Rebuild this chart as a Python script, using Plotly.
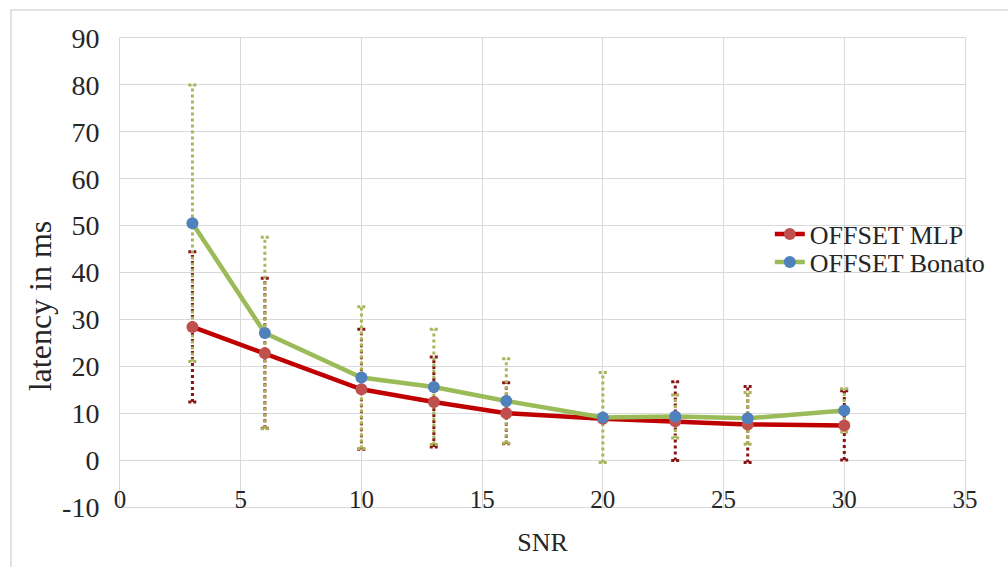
import plotly.graph_objects as go

# SNR levels and mean latency (ms) with standard deviations
snr = [3, 6, 10, 13, 16, 20, 23, 26, 30]
mlp_mean = [28.4, 22.8, 15.1, 12.4, 10.0, 8.8, 8.3, 7.6, 7.4]
mlp_sd = [16.0, 16.0, 12.8, 9.6, 6.5, 0.5, 8.4, 8.1, 7.4]
bonato_mean = [50.5, 27.1, 17.6, 15.6, 12.6, 9.1, 9.3, 8.9, 10.6]
bonato_sd = [29.5, 20.4, 15.1, 12.3, 9.0, 9.6, 4.6, 5.5, 4.6]

x_ticks = [0, 5, 10, 15, 20, 25, 30, 35]
y_ticks = [-10, 0, 10, 20, 30, 40, 50, 60, 70, 80, 90]

FONT = "Liberation Serif"
INK = "#262626"
GRID = "#d9d9d9"


def whisker_paths(xs, means, sds, cap=0.17):
    """Vertical bars plus caps as one line path separated by gaps."""
    bx, by, cx, cy = [], [], [], []
    for x, m, s in zip(xs, means, sds):
        lo, hi = m - s, m + s
        bx += [x, x, None]
        by += [lo, hi, None]
        for v in (lo, hi):
            cx += [x - cap, x + cap, None]
            cy += [v, v, None]
    return bx, by, cx, cy


fig = go.Figure()

# dotted error bars, drawn underneath the series lines
for means, sds, col in ((mlp_mean, mlp_sd, "#8a1414"),
                        (bonato_mean, bonato_sd, "#aab45a")):
    bx, by, cx, cy = whisker_paths(snr, means, sds)
    fig.add_trace(go.Scatter(x=bx, y=by, mode="lines", showlegend=False,
                             hoverinfo="skip",
                             line=dict(color=col, width=3, dash="3px,3px")))
    fig.add_trace(go.Scatter(x=cx, y=cy, mode="lines", showlegend=False,
                             hoverinfo="skip",
                             line=dict(color=col, width=3, dash="3px,2px")))

fig.add_trace(go.Scatter(
    x=snr, y=mlp_mean, mode="lines+markers", name="OFFSET MLP",
    legend="legend",
    line=dict(color="#c00000", width=4.5),
    marker=dict(color="#c0504d", size=12)))
fig.add_trace(go.Scatter(
    x=snr, y=bonato_mean, mode="lines+markers", name="OFFSET Bonato",
    legend="legend2",
    line=dict(color="#9bbb59", width=4.5),
    marker=dict(color="#4f81bd", size=12)))

legend_style = dict(xanchor="left", yanchor="middle",
                    bgcolor="rgba(255,255,255,0)",
                    font=dict(family=FONT, size=26, color=INK))

fig.update_layout(
    width=1008, height=567,
    margin=dict(l=120, r=43, t=38, b=60),
    paper_bgcolor="white", plot_bgcolor="white",
    font=dict(family=FONT, size=24, color=INK),
    showlegend=True,
    legend=dict(x=0.769, y=0.582, **legend_style),
    legend2=dict(x=0.769, y=0.522, **legend_style),
    xaxis=dict(range=[0, 35], tickvals=x_ticks, ticktext=[str(v) for v in x_ticks],
               showgrid=True, gridcolor=GRID, gridwidth=1,
               showline=True, linecolor=GRID, linewidth=1, mirror=True,
               zeroline=False, ticks="", ticklabelstandoff=-30,
               tickfont=dict(family=FONT, size=25, color=INK),
               title=dict(text="SNR", standoff=20,
                          font=dict(family=FONT, size=26, color=INK))),
    yaxis=dict(range=[-10, 90], tickvals=y_ticks, ticktext=[str(v) for v in y_ticks],
               showgrid=True, gridcolor=GRID, gridwidth=1,
               showline=True, linecolor=GRID, linewidth=1, mirror=True,
               zeroline=False, ticks="", ticklabelstandoff=14,
               tickfont=dict(family=FONT, size=28, color=INK)),
    annotations=[dict(text="latency in ms", textangle=-90,
                      xref="paper", yref="paper", x=-0.0947, y=0.43,
                      xanchor="center", yanchor="middle", showarrow=False,
                      font=dict(family=FONT, size=32, color=INK))],
    shapes=[dict(type="rect", xref="paper", yref="paper",
                 x0=-0.129, x1=1.06, y0=-0.15, y1=1.0597,
                 line=dict(color="#d9d9d9", width=1.5), layer="below")],
)

fig.write_html("out.html")
